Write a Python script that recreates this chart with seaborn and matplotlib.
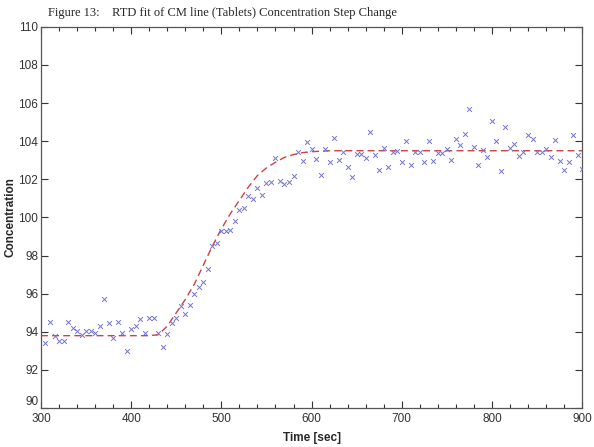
import matplotlib
matplotlib.use("Agg")
import matplotlib.pyplot as plt
import seaborn as sns
import pandas as pd
from matplotlib.ticker import MultipleLocator

# ---- data ----
time_sec = [305, 310, 315, 320, 325, 330, 335, 340, 345, 350, 355, 360, 365, 370, 375,
            380, 385, 390, 395, 400, 405, 410, 415, 420, 425, 430, 435, 440, 445, 450,
            455, 460, 465, 470, 475, 480, 485, 490, 495, 500, 505, 510, 515, 520, 525,
            530, 535, 540, 545, 550, 555, 560, 565, 570, 575, 580, 585, 590, 595, 600,
            605, 610, 615, 620, 625, 630, 635, 640, 645, 650, 655, 660, 665, 670, 675,
            680, 685, 690, 695, 700, 705, 710, 715, 720, 725, 730, 735, 740, 745, 750,
            755, 760, 765, 770, 775, 780, 785, 790, 795, 800, 805, 810, 815, 820, 825,
            830, 835, 840, 845, 850, 855, 860, 865, 870, 875, 880, 885, 890, 895, 900]
concentration = [93.4, 94.5, 93.8, 93.5, 93.5, 94.5, 94.2, 94.05, 93.85, 94.05, 94.05, 93.95, 94.3, 95.7, 94.45,
                 93.7, 94.5, 93.95, 93.0, 94.15, 94.3, 94.65, 93.95, 94.75, 94.75, 93.95, 93.2, 93.9, 94.45, 94.75,
                 95.35, 94.95, 95.4, 96.0, 96.35, 96.6, 97.3, 98.5, 98.65, 99.3, 99.3, 99.35, 99.8, 100.4, 100.5,
                 101.1, 100.95, 101.55, 101.2, 101.8, 101.85, 103.1, 101.9, 101.75, 101.85, 102.2, 103.45, 102.95, 103.95, 103.6,
                 103.05, 102.25, 103.6, 102.9, 104.15, 103.0, 103.45, 102.65, 102.1, 103.35, 103.35, 103.1, 104.5, 103.3, 102.5,
                 103.65, 102.65, 103.45, 103.5, 102.9, 104.0, 102.75, 103.45, 103.45, 102.9, 104.0, 102.95, 103.4, 103.4, 103.6,
                 103.0, 104.1, 103.8, 104.4, 105.7, 103.7, 102.75, 103.55, 103.15, 105.05, 104.0, 102.45, 104.75, 103.65, 103.85,
                 103.2, 103.45, 104.35, 104.1, 103.45, 103.45, 103.6, 103.15, 104.05, 102.95, 102.5, 102.9, 104.35, 103.3, 102.55]

fit_time = [300, 350, 400, 420, 430, 440, 450, 460, 470, 480, 490, 500, 510, 520, 530,
            540, 550, 560, 570, 580, 590, 600, 620, 650, 700, 800, 900]
fit_value = [93.8, 93.8, 93.8, 93.8, 93.85, 94.3, 95.0, 95.7, 96.5, 97.5, 98.5, 99.4, 100.2, 100.9, 101.6,
             102.2, 102.6, 102.9, 103.15, 103.3, 103.4, 103.45, 103.5, 103.5, 103.5, 103.5, 103.5]

title_text = "Figure 13:    RTD fit of CM line (Tablets) Concentration Step Change"

data = pd.DataFrame({"Time": time_sec, "Concentration": concentration})
fit = pd.DataFrame({"Time": fit_time, "Fit": fit_value})

sns.set_style("ticks")
plt.rcParams["font.family"] = ["Liberation Sans", "DejaVu Sans"]

fig = plt.figure(figsize=(5.94, 4.47), dpi=100)
ax = fig.add_axes([0.069, 0.087, 0.911, 0.853])

sns.lineplot(data=fit, x="Time", y="Fit", ax=ax, color="#d04040", linestyle=(0, (5, 3)),
             linewidth=1.0, zorder=2)
sns.scatterplot(data=data, x="Time", y="Concentration", ax=ax, marker="x", s=12,
                color="#7474d4", linewidth=0.7, zorder=3)

ax.set_xlim(300, 900)
ax.set_ylim(90, 110)
ax.xaxis.set_major_locator(MultipleLocator(100))
ax.xaxis.set_minor_locator(MultipleLocator(20))
ax.yaxis.set_major_locator(MultipleLocator(2))
ax.tick_params(which="both", direction="in", top=True, right=True, colors="#333333",
               labelsize=8.5, width=0.8)
ax.tick_params(which="major", length=5, pad=2)
ax.tick_params(axis="x", which="major", pad=3.5)
ax.tick_params(which="minor", length=3)
for sp in ax.spines.values():
    sp.set_visible(True)
    sp.set_color("#555555")
    sp.set_linewidth(0.9)

ax.set_xlabel("Time [sec]", fontsize=8.5, fontweight="bold")
ax.set_ylabel("Concentration", fontsize=8.5, fontweight="bold")
ax.xaxis.set_label_coords(0.5, -0.062)
ax.yaxis.set_label_coords(-0.045, 0.5)

fig.text(0.081, 0.972, title_text, fontsize=9, family=["Liberation Serif", "DejaVu Serif"],
         ha="left", va="center")

# raise the lowest y tick label slightly so it sits above the "300" label, as in the reference
fig.canvas.draw()
for tk in ax.yaxis.get_major_ticks():
    if abs(tk.get_loc() - 90) < 1e-6:
        tk.label1.set_va("bottom")

fig.savefig("out.png", dpi=100)
